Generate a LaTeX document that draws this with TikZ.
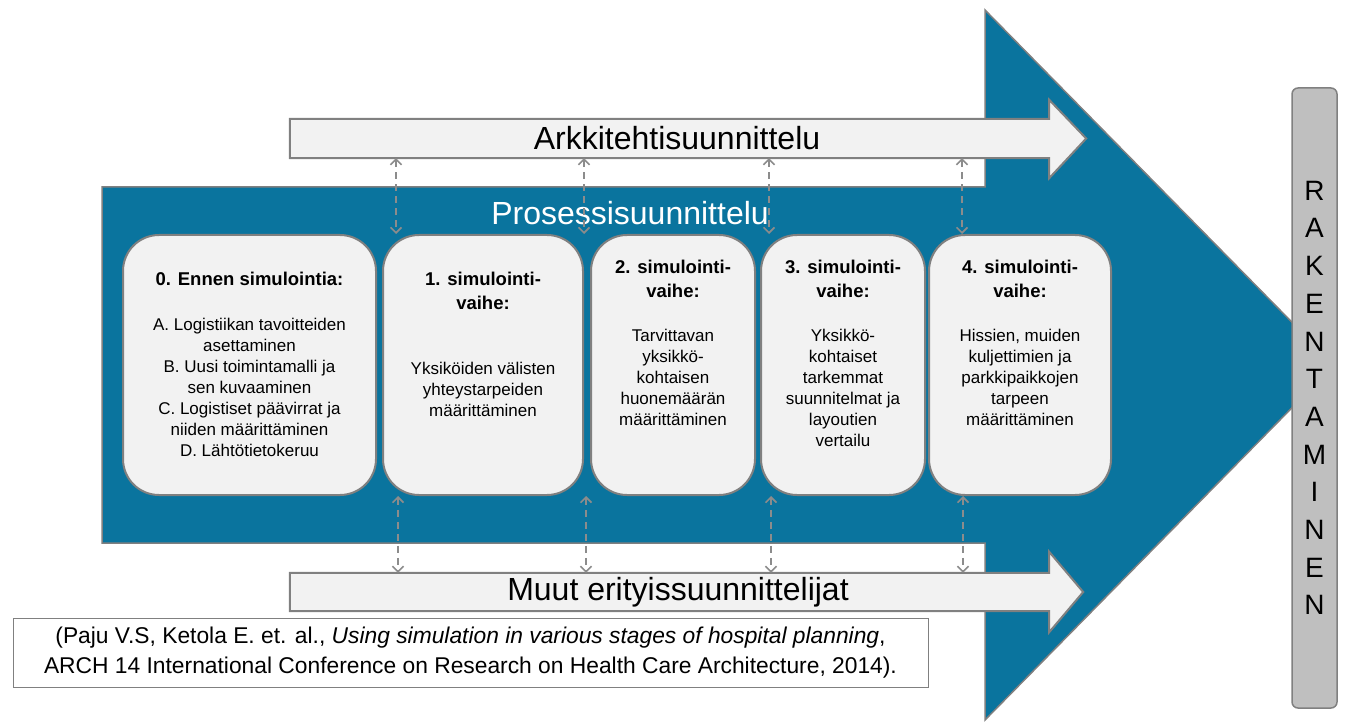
\documentclass[tikz,border=0pt]{standalone}
\usepackage{fontspec}
\setmainfont{Liberation Sans}
\usetikzlibrary{arrows.meta,calc}
\definecolor{procblue}{RGB}{10,116,158}
\definecolor{boxfill}{RGB}{242,242,242}
\definecolor{edgegray}{RGB}{128,128,128}
\definecolor{bargray}{RGB}{191,191,191}
\definecolor{dashgray}{RGB}{140,140,140}
\begin{document}
\begin{tikzpicture}[x=1pt,y=-1pt,
  stagebox/.style={draw=edgegray, line width=2pt, fill=boxfill, rounded corners=36pt,
    minimum height=260pt, inner sep=0pt},
  bandbody/.style={minimum width=759pt, inner sep=0pt},
  bandshape/.style={draw=edgegray, line width=2pt, fill=boxfill},
  bandtext/.style={font=\fontsize{32}{36}\selectfont, inner sep=0pt},
  titletext/.style={font=\fontsize{18.5}{24}\selectfont\bfseries, align=center, inner sep=0pt},
  bodytext/.style={font=\fontsize{17}{21}\selectfont, align=center, inner sep=0pt},
  darr/.style={draw=dashgray, line width=1.6pt, dash pattern=on 7pt off 5pt,
    {Straight Barb[length=5.5pt,width=11pt]}-{Straight Barb[length=5.5pt,width=11pt]}},
]
\useasboundingbox (0,0) rectangle (1357,727);

% big blue arrow
\draw[fill=procblue, draw=edgegray, line width=1.5pt]
  (102,187) -- (985,187) -- (985,10) -- (1334,365) -- (985,720) -- (985,543) -- (102,543) -- cycle;
\node[text=white, bandtext] (proc) at (630,213) {Prosessisuunnittelu};

% top band
\node[bandbody, minimum height=39pt] (arch) at (669.5,138.5) {};
\draw[bandshape] (arch.north west) -- (arch.north east) -- ++(0,-19) -- ($(arch.east)+(37,0)$)
  -- ($(arch.south east)+(0,20)$) -- (arch.south east) -- (arch.south west) -- cycle;
\node[bandtext] (archtext) at (677,138) {Arkkitehtisuunnittelu};

% bottom band
\node[bandbody, minimum height=38pt] (muut) at (669.5,592) {};
\draw[bandshape] (muut.north west) -- (muut.north east) -- ++(0,-21) -- ($(muut.east)+(34,0)$)
  -- ($(muut.south east)+(0,21)$) -- (muut.south east) -- (muut.south west) -- cycle;
\node[bandtext] (muuttext) at (678,592) {Muut erityissuunnittelijat};

% stage boxes
\node[stagebox, minimum width=253pt] (b0) at (249.5,365) {};
\node[stagebox, minimum width=200pt] (b1) at (483,365) {};
\node[stagebox, minimum width=164pt] (b2) at (673,365) {};
\node[stagebox, minimum width=164pt] (b3) at (843,365) {};
\node[stagebox, minimum width=182pt] (b4) at (1020,365) {};

\node[titletext] (t0) at ($(b0.north)+(0,45)$) {0. Ennen simulointia:};
\node[bodytext] (x0) at ($(b0.north)+(0,153)$) {A. Logistiikan tavoitteiden\\asettaminen\\B. Uusi toimintamalli ja\\sen kuvaaminen\\C. Logistiset päävirrat ja\\niiden määrittäminen\\D. Lähtötietokeruu};

\node[titletext] (t1) at ($(b1.north)+(0,56.5)$) {1. simulointi-\\vaihe:};
\node[bodytext] (x1) at ($(b1.north)+(0,155)$) {Yksiköiden välisten\\yhteystarpeiden\\määrittäminen};

\node[titletext] (t2) at ($(b2.north)+(0,45)$) {2. simulointi-\\vaihe:};
\node[bodytext] (x2) at ($(b2.north)+(0,143.5)$) {Tarvittavan\\yksikkö-\\kohtaisen\\huonemäärän\\määrittäminen};

\node[titletext] (t3) at ($(b3.north)+(0,45)$) {3. simulointi-\\vaihe:};
\node[bodytext] (x3) at ($(b3.north)+(0,154)$) {Yksikkö-\\kohtaiset\\tarkemmat\\suunnitelmat ja\\layoutien\\vertailu};

\node[titletext] (t4) at ($(b4.north)+(0,45)$) {4. simulointi-\\vaihe:};
\node[bodytext] (x4) at ($(b4.north)+(0,143.5)$) {Hissien, muiden\\kuljettimien ja\\parkkipaikkojen\\tarpeen\\määrittäminen};

% dashed connectors
\coordinate (u1) at (396,0);
\coordinate (u2) at (584,0);
\coordinate (u3) at (769,0);
\coordinate (u4) at (962,0);
\coordinate (l1) at (398,0);
\coordinate (l2) at (586,0);
\coordinate (l3) at (771,0);
\coordinate (l4) at (963,0);
\foreach \c in {u1,u2,u3,u4}{
  \draw[darr] (\c |- arch.south) -- (\c |- b1.north);
}
\foreach \c in {l1,l2,l3,l4}{
  \draw[darr] (\c |- b1.south) -- (\c |- muut.north);
}

% RAKENTAMINEN bar
\node[draw=edgegray, line width=1.5pt, fill=bargray, rounded corners=6pt,
  minimum width=45pt, minimum height=620pt, inner sep=0pt,
  font=\fontsize{28}{37.7}\selectfont, align=center] (bar) at (1314.5,398)
  {R\\A\\K\\E\\N\\T\\A\\M\\I\\N\\E\\N};

% citation
\node[draw=edgegray, line width=1pt, fill=white, minimum width=915pt, minimum height=69pt,
  inner sep=0pt, align=center, font=\fontsize{22.8}{29.5}\selectfont] (cite) at (470.5,652.5)
  {(Paju V.S, Ketola E. et. al., \textit{Using simulation in various stages of hospital planning},\\
   ARCH 14 International Conference on Research on Health Care Architecture, 2014).};
\end{tikzpicture}
\end{document}
